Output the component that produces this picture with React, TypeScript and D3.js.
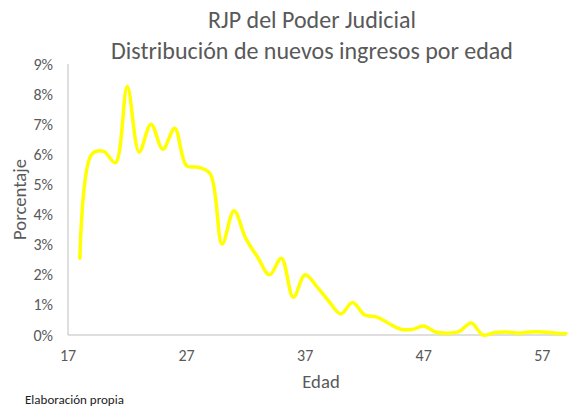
import React from "react";
import * as d3 from "d3";

const ages: number[] = [18,19,20,21,22,23,24,25,26,27,28,29,30,31,32,33,34,35,36,37,38,39,40,41,42,43,44,45,46,47,48,49,50,51,52,53,54,55,56,57,58,59];
const pct: number[] = [2.55,6.0,6.1,5.72,8.25,6.08,7.0,6.17,6.87,5.62,5.57,5.35,3.02,4.13,3.2,2.58,2.0,2.55,1.25,2.0,1.6,1.12,0.7,1.08,0.67,0.6,0.4,0.2,0.18,0.3,0.1,0.06,0.12,0.4,0.0,0.08,0.1,0.06,0.1,0.1,0.07,0.05];
const xTicks: number[] = [17, 27, 37, 47, 57];
const yTicks: number[] = [0,1,2,3,4,5,6,7,8,9];
const titleLines: string[] = ["RJP del Poder Judicial", "Distribución de nuevos ingresos por edad"];
const xTitle = "Edad";
const yTitle = "Porcentaje";
const note = "Elaboración propia";

export default function App() {
  const W = 572, H = 406;
  const left = 68, right = 566, top = 64, bottom = 335;
  const x = d3.scaleLinear().domain([17, 59]).range([left, right]);
  const y = d3.scaleLinear().domain([0, 9]).range([bottom, top]);
  const line = d3.line<number>()
    .x((_, i) => x(ages[i]))
    .y((d) => y(d))
    .curve(d3.curveCatmullRom.alpha(0.5));
  const font = "Carlito, Calibri, 'Open Sans', sans-serif";
  const grey = "#595959";
  return (
    <svg width={W} height={H} style={{ position: "absolute", left: 0, top: 0, background: "#fff" }} fontFamily={font}>
      <rect width={W} height={H} fill="#fff" />
      {titleLines.map((t, i) => (
        <text key={i} x={312} y={28 + i * 31} textAnchor="middle" fontSize={24} fill={grey}>{t}</text>
      ))}
      <line x1={left} x2={left} y1={top} y2={bottom} stroke="#bfbfbf" strokeWidth={1} />
      <line x1={left} x2={right} y1={bottom} y2={bottom} stroke="#bfbfbf" strokeWidth={1} />
      {yTicks.map((t) => (
        <text key={t} x={53} y={y(t) + 5.5} textAnchor="end" fontSize={16} fill={grey}>{t + "%"}</text>
      ))}
      {xTicks.map((t) => (
        <text key={t} x={x(t)} y={361} textAnchor="middle" fontSize={16} fill={grey}>{t}</text>
      ))}
      <text x={321} y={388} textAnchor="middle" fontSize={18.7} fill={grey}>{xTitle}</text>
      <text transform={`translate(26,${(top + bottom) / 2}) rotate(-90)`} textAnchor="middle" fontSize={18.7} fill={grey}>{yTitle}</text>
      <path d={line(pct) || ""} fill="none" stroke="#ffff00" strokeWidth={3.5} strokeLinejoin="round" strokeLinecap="round" />
      <text x={25} y={404} fontSize={13} fill="#222">{note}</text>
    </svg>
  );
}
